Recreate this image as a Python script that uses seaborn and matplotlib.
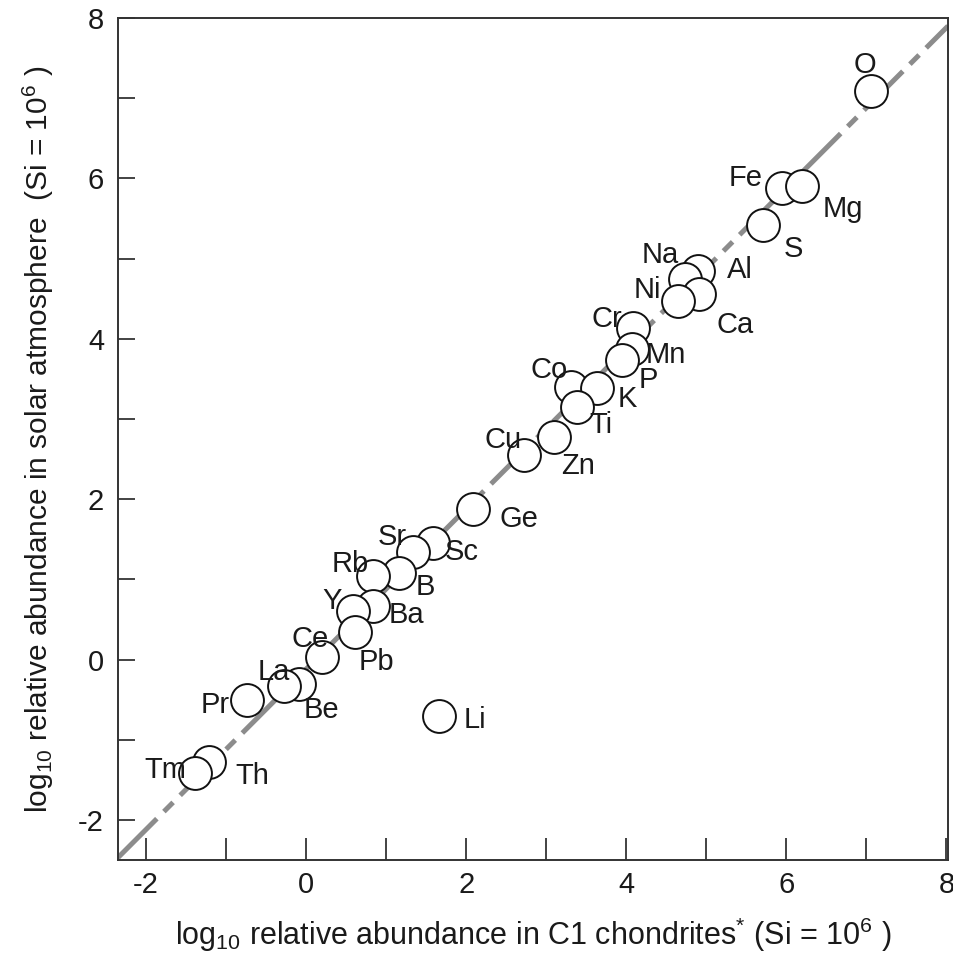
import matplotlib
matplotlib.use("Agg")
import matplotlib.pyplot as plt
import seaborn as sns
import pandas as pd
from matplotlib.ticker import MultipleLocator

elements = ["O", "Fe", "Mg", "S", "Al", "Na", "Ca", "Ni", "Cr", "Mn", "P", "Co", "K",
            "Ti", "Zn", "Cu", "Ge", "Sc", "Sr", "B", "Rb", "Ba", "Y", "Pb", "Ce", "Be",
            "La", "Pr", "Li", "Th", "Tm"]
chondrite = [7.06, 5.94, 6.19, 5.71, 4.90, 4.74, 4.91, 4.65, 4.08, 4.07, 3.95, 3.31, 3.63,
             3.38, 3.10, 2.72, 2.09, 1.59, 1.34, 1.16, 0.83, 0.83, 0.59, 0.61, 0.20, -0.09,
             -0.27, -0.74, 1.66, -1.21, -1.39]
solar = [7.09, 5.88, 5.91, 5.42, 4.84, 4.74, 4.56, 4.47, 4.14, 3.87, 3.73, 3.40, 3.38,
         3.15, 2.78, 2.55, 1.88, 1.45, 1.34, 1.08, 1.04, 0.67, 0.60, 0.34, 0.03, -0.31,
         -0.33, -0.51, -0.71, -1.28, -1.42]

# label offsets in pixels (dx right, dy down)
label_offsets = {
    "O": (-6, -29), "Fe": (-36, -13), "Mg": (41, 20), "S": (30, 21), "Na": (-25, -27),
    "Al": (42, -4), "Ni": (-31, -14), "Ca": (36, 28), "Cr": (-26, -12), "Mn": (34, 3),
    "P": (26, 17), "K": (31, 8), "Co": (-22, -20), "Ti": (24, 15), "Zn": (24, 26),
    "Cu": (-21, -18), "Ge": (46, 7), "Sc": (28, 6), "Sr": (-21, -18), "B": (26, 11),
    "Rb": (-22, -15), "Ba": (34, 6), "Y": (-21, -13), "Pb": (22, 27), "Ce": (-12, -21),
    "La": (-11, -17), "Be": (23, 23), "Pr": (-32, 2), "Li": (36, 1), "Th": (43, 11),
    "Tm": (-30, -6),
}

df = pd.DataFrame({"element": elements, "chondrite": chondrite, "solar": solar})

sns.set_style("ticks")
plt.rcParams["font.family"] = ["Liberation Sans", "DejaVu Sans"]
plt.rcParams["mathtext.default"] = "regular"
plt.rcParams["axes.unicode_minus"] = False

fig = plt.figure(figsize=(9.54, 9.58), dpi=100)
ax = fig.add_axes([118 / 954, 1 - 860 / 958, (948 - 118) / 954, (860 - 18) / 958])

ax.axline((0, -0.12), slope=1.0, color="#8c8c8c", lw=3.6,
          dashes=(11, 2.0, 2.6, 2.0), dash_capstyle="butt", zorder=1)

sns.scatterplot(data=df, x="chondrite", y="solar", ax=ax, s=560, marker="o",
                facecolor="white", edgecolor="#111111", linewidth=1.4, zorder=3,
                legend=False)

for el, xv, yv in zip(elements, chondrite, solar):
    dx, dy = label_offsets[el]
    ax.annotate(el, (xv, yv), xytext=(dx, -dy - 3), textcoords="offset pixels",
                ha="center", va="center", fontsize=21, color="#1a1a1a", zorder=4)

ax.set_xlim(-2.35, 8.02)
ax.set_ylim(-2.5, 8.0)
ax.xaxis.set_major_locator(MultipleLocator(2))
ax.xaxis.set_minor_locator(MultipleLocator(1))
ax.yaxis.set_major_locator(MultipleLocator(2))
ax.yaxis.set_minor_locator(MultipleLocator(1))
ax.tick_params(axis="x", which="both", direction="in", length=16, width=1.2,
               color="#222222", top=False, labelsize=21, pad=8, labelcolor="#1a1a1a")
ax.tick_params(axis="y", which="both", direction="in", length=12, width=1.2,
               color="#222222", right=False, labelsize=21, pad=10, labelcolor="#1a1a1a")
for sp in ax.spines.values():
    sp.set_color("#333333")
    sp.set_linewidth(1.4)

ax.set_xlabel("log$_{10}$ relative abundance in C1 chondrites$^{*}$ (Si = 10$^{6}$ )",
              fontsize=22, labelpad=12, color="#1a1a1a")
ax.set_ylabel("log$_{10}$ relative abundance in solar atmosphere  (Si = 10$^{6}$ )",
              fontsize=21.5, labelpad=16, color="#1a1a1a")

fig.savefig("out.png", dpi=100)
